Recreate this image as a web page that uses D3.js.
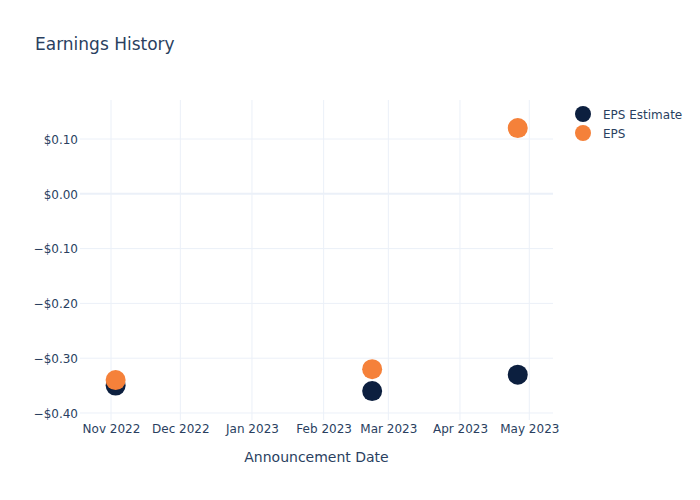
<!DOCTYPE html>
<html><head><meta charset="utf-8">
<script src="https://cdn.jsdelivr.net/npm/d3@7"></script>
<style>body{margin:0;background:#fff}text{font-family:"DejaVu Sans",Verdana,sans-serif}</style>
</head><body><svg id="c" width="700" height="500"></svg>
<script>
const dates = ["2022-11-03", "2023-02-22", "2023-04-26"];
const epsEstimate = [-0.35, -0.36, -0.33];
const eps = [-0.34, -0.32, 0.12];
const seriesNames = ["EPS Estimate", "EPS"];
const seriesColors = ["#0c1f3f", "#f5813a"];
const yTicks = [0.1, 0, -0.1, -0.2, -0.3, -0.4];
const xTickDates = ["2022-11-01","2022-12-01","2023-01-01","2023-02-01","2023-03-01","2023-04-01","2023-05-01"];

const svg = d3.select("#c");
const L = 80, R = 553, T = 100, B = 420;
const parse = d3.utcParse("%Y-%m-%d");
const x = d3.scaleUtc().domain([new Date(Date.UTC(2022,9,18,14)), new Date(Date.UTC(2023,4,11,6))]).range([L, R]);
const y = d3.scaleLinear().domain([-0.4128, 0.1712]).range([B, T]);
const txt = "#2a3f5f", grid = "#ebf0f8";

const g = svg.append("g");
g.selectAll(".vg").data(xTickDates).join("line")
  .attr("x1", d => x(parse(d))).attr("x2", d => x(parse(d)))
  .attr("y1", T).attr("y2", B).attr("stroke", grid).attr("stroke-width", 1);
g.selectAll(".hg").data(yTicks).join("line")
  .attr("x1", L).attr("x2", R)
  .attr("y1", d => y(d)).attr("y2", d => y(d))
  .attr("stroke", grid).attr("stroke-width", d => d === 0 ? 2 : 1);

const fmt = d => (d < 0 ? "\u2212" : "") + "$" + Math.abs(d).toFixed(2);
const yAxis = d3.axisLeft(y).tickValues(yTicks).tickFormat(fmt).tickSize(0).tickPadding(3);
const ya = svg.append("g").attr("transform", `translate(${L},0)`).call(yAxis);
ya.select(".domain").remove();
ya.selectAll("text").attr("fill", txt).style("font-size", "12px").attr("x", -2).attr("dy", "0.36em");

const xAxis = d3.axisBottom(x).tickValues(xTickDates.map(parse)).tickFormat(d3.utcFormat("%b %Y")).tickSize(0).tickPadding(4);
const xa = svg.append("g").attr("transform", `translate(0,${B})`).call(xAxis);
xa.select(".domain").remove();
xa.selectAll("text").attr("fill", txt).style("font-size", "12px");

[epsEstimate, eps].forEach((vals, i) => {
  svg.append("g").selectAll("circle").data(vals).join("circle")
    .attr("cx", (d, j) => x(parse(dates[j]))).attr("cy", d => y(d))
    .attr("r", 10).attr("fill", seriesColors[i]);
});

svg.append("text").attr("x", 35).attr("y", 50).attr("fill", txt).style("font-size", "17px").text("Earnings History");
svg.append("text").attr("x", (L+R)/2).attr("y", 462).attr("text-anchor", "middle").attr("fill", txt).style("font-size", "14px").text("Announcement Date");

const lg = svg.append("g").selectAll("g").data(seriesNames).join("g")
  .attr("transform", (d, i) => `translate(583,${114 + i*19})`);
lg.append("circle").attr("r", 8).attr("fill", (d, i) => seriesColors[i]);
lg.append("text").attr("x", 20).attr("y", 4.5).attr("fill", txt).style("font-size", "12px").text(d => d);
</script></body></html>
